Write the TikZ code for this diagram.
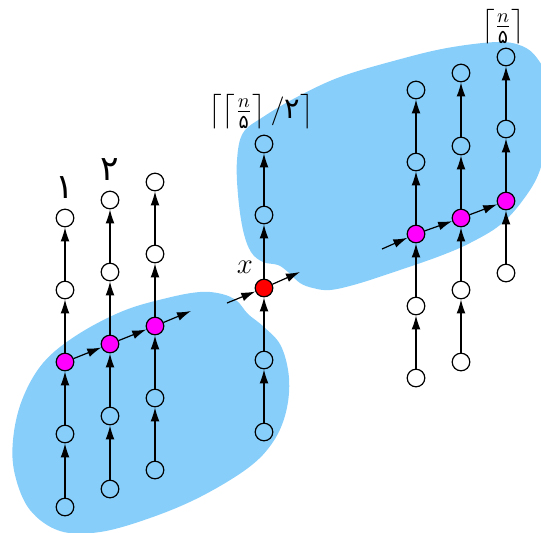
\documentclass[tikz,border=0pt]{standalone}
\usepackage{amsmath}
\usepackage{fontspec}
\newfontfamily\fa{DejaVu Sans}
\newcommand\smfa[1]{\mbox{\fa\fontsize{9.5}{10}\selectfont #1}}
\usetikzlibrary{arrows.meta}
\definecolor{blob}{HTML}{87CEFA}
\definecolor{mag}{HTML}{FF00FF}
\tikzset{
  v/.style={circle,draw,line width=0.6pt,minimum size=8.8pt,inner sep=0pt},
  mv/.style={v,fill=mag},
  rv/.style={v,fill=red},
  ar/.style={-{Latex[length=7pt,width=4.4pt]},line width=0.6pt},
  lab/.style={inner sep=0pt},
}
\begin{document}
\begin{tikzpicture}[x=0.5pt,y=-0.5pt]
\useasboundingbox (0,0) rectangle (541,532);
\begin{scope}
\clip (0,0) rectangle (541,532);
\fill[blob] plot[smooth cycle,tension=0.6] coordinates {
 (167,298) (200,292) (222,294) (237,301) (248,314) (264,327) (281,346) (289,378) (286,412) (273,442) (248,468) (200,497) (150,518) (100,532) (60,531) (30,510) (15,475) (13,440) (22,400) (43,363) (77,335) (123,311)};
\fill[blob] plot[smooth cycle,tension=0.6] coordinates {
 (237,160) (243,133) (263,117) (297,97) (340,77) (397,60) (447,48) (497,42) (522,46) (537,58) (547,80) (549,125) (540,170) (523,200) (500,225) (470,243) (440,256) (397,271) (357,284) (330,290) (313,288) (300,283) (288,272) (278,265) (263,262) (251,252) (243,230) (238,195)};
\end{scope}
% column 1
\node[v]  (a1) at (65,507) {};
\node[v]  (a2) at (65,434) {};
\node[mv] (a3) at (65,362) {};
\node[v]  (a4) at (65,290) {};
\node[v]  (a5) at (65,218) {};
% column 2
\node[v]  (b1) at (110,489) {};
\node[v]  (b2) at (110,416) {};
\node[mv] (b3) at (110,344) {};
\node[v]  (b4) at (110,272) {};
\node[v]  (b5) at (110,200) {};
% column 3
\node[v]  (c1) at (155,470) {};
\node[v]  (c2) at (155,398) {};
\node[mv] (c3) at (155,326) {};
\node[v]  (c4) at (155,254) {};
\node[v]  (c5) at (155,182) {};
% column 4
\node[v]  (d1) at (264,432) {};
\node[v]  (d2) at (264,360) {};
\node[rv] (d3) at (264,288) {};
\node[v]  (d4) at (264,215) {};
\node[v]  (d5) at (264,144) {};
% column 5
\node[v]  (e1) at (416,378) {};
\node[v]  (e2) at (416,306) {};
\node[mv] (e3) at (416,234) {};
\node[v]  (e4) at (416,162) {};
\node[v]  (e5) at (416,90) {};
% column 6
\node[v]  (f1) at (461,362) {};
\node[v]  (f2) at (461,290) {};
\node[mv] (f3) at (461,218) {};
\node[v]  (f4) at (461,146) {};
\node[v]  (f5) at (461,73) {};
% column 7
\node[v]  (g1) at (506,273) {};
\node[mv] (g2) at (506,201) {};
\node[v]  (g3) at (506,129) {};
\node[v]  (g4) at (506,57) {};
% vertical edges
\foreach \p in {a,b,c,d,e,f}{
  \foreach \i/\j in {1/2,2/3,3/4,4/5}{\draw[ar] (\p\i) -- (\p\j);}
}
\foreach \i/\j in {1/2,2/3,3/4}{\draw[ar] (g\i) -- (g\j);}
% chain edges
\coordinate (cout) at (191,311);
\coordinate (din) at (227,303);
\coordinate (dout) at (300,272);
\coordinate (ein) at (382,249);
\draw[ar] (a3) -- (b3);
\draw[ar] (b3) -- (c3);
\draw[ar] (c3) -- (cout);
\draw[ar] (din) -- (d3);
\draw[ar] (d3) -- (dout);
\draw[ar] (ein) -- (e3);
\draw[ar] (e3) -- (f3);
\draw[ar] (f3) -- (g2);
% labels
\node[lab] (l1) at (65,188) {\LARGE\fa ۱};
\node[lab] (l2) at (110,170) {\LARGE\fa ۲};
\node[lab,anchor=north] (l4) at (261,94) {\Large$\left\lceil\left\lceil\frac{n}{\smfa{۵}}\right\rceil/\mbox{\fa ۲}\right\rceil$};
\node[lab,anchor=north] (l7) at (503,9) {\Large$\left\lceil\frac{n}{\smfa{۵}}\right\rceil$};
\node[lab] (lx) at (245,267) {\Large$x$};
\end{tikzpicture}
\end{document}
